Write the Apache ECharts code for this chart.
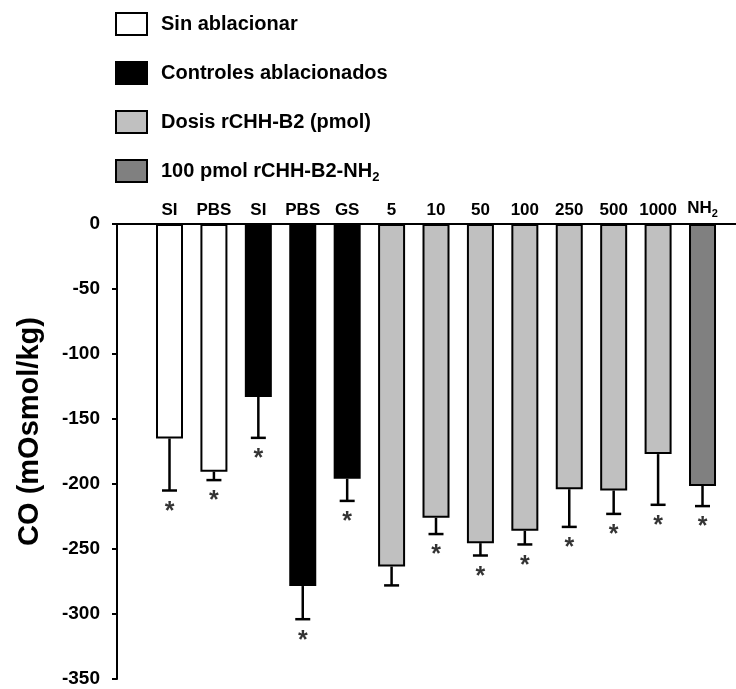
<!DOCTYPE html>
<html>
<head>
<meta charset="utf-8">
<script src="https://cdn.jsdelivr.net/npm/echarts@6/dist/echarts.min.js"></script>
<style>html,body{margin:0;padding:0;background:#fff;}#c{width:736px;height:689px;}</style>
</head>
<body>
<div id="c"></div>
<script>
// ---- data ----
const categories = ['SI', 'PBS', 'SI', 'PBS', 'GS', '5', '10', '50', '100', '250', '500', '1000', 'NH2'];
const means      = [-165, -190.5, -133, -278.5, -196, -263.5, -226, -245.5, -236, -204, -205, -177, -201.5];
const errors     = [40, 6.5, 31.5, 25.5, 17, 14.5, 12.5, 9.5, 10.5, 29, 18, 39, 15.5];
const groupOf    = [0, 0, 1, 1, 1, 2, 2, 2, 2, 2, 2, 2, 3];
const significant = [true, true, true, true, true, false, true, true, true, true, true, true, true];
const groupNames = ['Sin ablacionar', 'Controles ablacionados', 'Dosis rCHH-B2 (pmol)', '100 pmol rCHH-B2-NH2'];
const groupColors = ['#ffffff', '#000000', '#c0c0c0', '#808080'];
const yMin = -350, yMax = 0, yStep = 50;

const FONT = '"Liberation Sans", Arial, sans-serif';
const chart = echarts.init(document.getElementById('c'));

function catLabel(i) {
  const c = categories[i];
  if (c === 'NH2') return '{t|NH}{s|2}';
  return '{t|' + c + '}';
}

const barSeries = groupNames.map((name, g) => ({
  name: name,
  type: 'bar',
  stack: 'all',
  barWidth: 27,
  itemStyle: { color: groupColors[g], borderColor: '#000', borderWidth: 2 },
  label: {
    show: true,
    position: 'top',
    distance: 5,
    formatter: p => catLabel(p.value[0] - 1),
    rich: {
      t: { fontSize: 17, fontWeight: 'bold', fontFamily: FONT, color: '#000' },
      s: { fontSize: 11, fontWeight: 'bold', fontFamily: FONT, color: '#000', verticalAlign: 'bottom', padding: [10, 0, 0, 0] }
    }
  },
  emphasis: { disabled: true },
  data: categories.map((c, i) => groupOf[i] === g ? [i + 1, means[i]] : null).filter(d => d)
}));

const errorSeries = {
  type: 'custom',
  silent: true,
  z: 3,
  data: categories.map((c, i) => [i + 1, means[i], means[i] - errors[i]]),
  renderItem: function (params, api) {
    const x = api.value(0);
    const p0 = api.coord([x, api.value(1)]);
    const p1 = api.coord([x, api.value(2)]);
    const hw = 7.5;
    const st = { stroke: '#000', lineWidth: 2.5 };
    return {
      type: 'group',
      children: [
        { type: 'line', shape: { x1: p0[0], y1: p0[1], x2: p1[0], y2: p1[1] }, style: st },
        { type: 'line', shape: { x1: p1[0] - hw, y1: p1[1], x2: p1[0] + hw, y2: p1[1] }, style: st }
      ]
    };
  }
};

const starSeries = {
  type: 'scatter',
  silent: true,
  symbolSize: 0,
  data: categories.map((c, i) => significant[i] ? [i + 1, means[i] - errors[i]] : null).filter(d => d),
  label: {
    show: true,
    position: 'bottom',
    distance: 9,
    formatter: '*',
    fontSize: 25,
    fontWeight: 'bold',
    fontFamily: FONT,
    color: '#000'
  }
};

chart.setOption({
  animation: false,
  backgroundColor: '#fff',
  textStyle: { fontFamily: FONT },
  legend: {
    orient: 'vertical',
    left: 115,
    top: 12,
    padding: 0,
    itemWidth: 31,
    itemHeight: 22,
    itemGap: 25,
    icon: 'rect',
    selectedMode: false,
    data: groupNames,
    formatter: function (n) {
      if (n.endsWith('NH2')) return '{t|' + n.slice(0, -1) + '}{s|2}';
      return '{t|' + n + '}';
    },
    textStyle: {
      color: '#000',
      padding: [0, 0, 0, 9],
      rich: {
        t: { fontSize: 20, fontWeight: 'bold', fontFamily: FONT, color: '#000' },
        s: { fontSize: 13, fontWeight: 'bold', fontFamily: FONT, color: '#000', verticalAlign: 'bottom', padding: [12, 0, 0, 0] }
      }
    }
  },
  grid: { left: 117, right: 0, top: 224, bottom: 10, containLabel: false },
  xAxis: {
    type: 'value',
    position: 'top',
    min: -0.182,
    max: 13.754,
    axisLine: { show: true, onZero: false, lineStyle: { color: '#000', width: 2 } },
    axisTick: { show: false },
    axisLabel: { show: false },
    splitLine: { show: false }
  },
  yAxis: {
    type: 'value',
    min: yMin,
    max: yMax,
    interval: yStep,
    name: 'CO (mOsmol/kg)',
    nameLocation: 'middle',
    nameGap: 73,
    nameTextStyle: { fontSize: 29, fontWeight: 'bold', color: '#000', fontFamily: FONT, padding: [0, 0, 0, 40] },
    axisLine: { show: true, onZero: false, lineStyle: { color: '#000', width: 2 } },
    axisTick: { show: true, length: 5, lineStyle: { color: '#000', width: 2 } },
    axisLabel: { fontSize: 19, fontWeight: 'bold', color: '#000', margin: 17, fontFamily: FONT },
    splitLine: { show: false }
  },
  series: barSeries.concat([errorSeries, starSeries])
});
</script>
</body>
</html>
